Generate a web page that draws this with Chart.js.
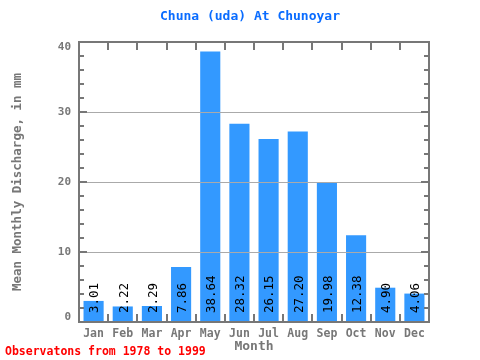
<!DOCTYPE html>
<html>
<head>
<meta charset="UTF-8">
<title>Chuna (uda) At Chunoyar</title>
<style>
  body { margin: 0; background: #fff; }
  #wrap { width: 480px; height: 360px; }
</style>
</head>
<body>
<div id="wrap"><canvas id="chart" width="480" height="360"></canvas></div>
<script src="https://cdn.jsdelivr.net/npm/chart.js@4"></script>
<script>
// data
const months = ['Jan', 'Feb', 'Mar', 'Apr', 'May', 'Jun', 'Jul', 'Aug', 'Sep', 'Oct', 'Nov', 'Dec'];
const discharge = [3.01, 2.22, 2.29, 7.86, 38.64, 28.32, 26.15, 27.20, 19.98, 12.38, 4.90, 4.06];
const valueLabels = ['3.01', '2.22', '2.29', '7.86', '38.64', '28.32', '26.15', '27.20', '19.98', '12.38', '4.90', '4.06'];
const yTicks = [0, 10, 20, 30, 40];

const MONO = '"DejaVu Sans Mono", "Liberation Mono", monospace';
const GREY = '#777777';

// frame, ticks, grid lines, value labels and texts
const decor = {
  id: 'decor',
  afterDatasetsDraw(chart) {
    const c = chart.ctx;
    const a = chart.chartArea;
    const y = chart.scales.y;
    const x = chart.scales.x;
    c.save();

    // grid lines over the bars
    c.strokeStyle = '#aaaaaa';
    c.lineWidth = 1;
    [10, 20, 30].forEach(v => {
      const py = Math.round(y.getPixelForValue(v)) + 0.5;
      c.beginPath(); c.moveTo(a.left, py); c.lineTo(a.right, py); c.stroke();
    });

    // inward ticks
    c.strokeStyle = GREY;
    c.lineWidth = 2;
    for (let v = 2; v < 40; v += 2) {
      const py = Math.round(y.getPixelForValue(v));
      const len = v % 10 === 0 ? 8 : 5;
      c.beginPath(); c.moveTo(a.left, py); c.lineTo(a.left + len, py); c.stroke();
      c.beginPath(); c.moveTo(a.right, py); c.lineTo(a.right - len, py); c.stroke();
    }
    const step = (a.right - a.left) / months.length;
    for (let i = 1; i < months.length; i++) {
      const px = Math.round(a.left + i * step);
      c.beginPath(); c.moveTo(px, a.top); c.lineTo(px, a.top + 8); c.stroke();
      c.beginPath(); c.moveTo(px, a.bottom); c.lineTo(px, a.bottom - 8); c.stroke();
    }

    // frame
    c.strokeRect(a.left, a.top, a.right - a.left, a.bottom - a.top);

    // y tick labels, kept inside the frame height
    c.fillStyle = GREY;
    c.font = 'bold 11px ' + MONO;
    c.textAlign = 'right';
    c.textBaseline = 'middle';
    yTicks.forEach(v => {
      let py = y.getPixelForValue(v);
      py = Math.min(Math.max(py, a.top + 5), a.bottom - 5);
      c.fillText(String(v), a.left - 8, py);
    });

    // value labels, vertical, from the bottom upward
    c.fillStyle = '#000000';
    c.font = '12.5px ' + MONO;
    c.textAlign = 'left';
    c.textBaseline = 'middle';
    discharge.forEach((v, i) => {
      const px = x.getPixelForValue(i) + 1.5;
      c.save();
      c.translate(px, a.bottom - 9);
      c.rotate(-Math.PI / 2);
      c.fillText(valueLabels[i], 0, 0);
      c.restore();
    });

    // title
    c.fillStyle = '#0a6cff';
    c.font = 'bold 13px ' + MONO;
    c.textAlign = 'center';
    c.fillText('Chuna (uda) At Chunoyar', 250, 17);

    // axis titles
    c.fillStyle = GREY;
    c.font = 'bold 13px ' + MONO;
    c.fillText('Month', (a.left + a.right) / 2, 347);
    c.save();
    c.translate(18, (a.top + a.bottom) / 2);
    c.rotate(-Math.PI / 2);
    c.font = 'bold 12.5px ' + MONO;
    c.fillText('Mean Monthly Discharge, in mm', 0, 0);
    c.restore();

    // footer
    c.fillStyle = '#ff0000';
    c.font = 'bold 11.5px ' + MONO;
    c.textAlign = 'left';
    c.fillText('Observatons from 1978 to 1999', 5, 352);

    c.restore();
  }
};

new Chart(document.getElementById('chart'), {
  type: 'bar',
  data: {
    labels: months,
    datasets: [{
      data: discharge,
      backgroundColor: '#3399ff',
      borderWidth: 0,
      categoryPercentage: 1,
      barPercentage: 0.69
    }]
  },
  options: {
    responsive: false,
    animation: false,
    layout: { padding: { left: 0, top: 42, right: 51, bottom: 0 } },
    plugins: { legend: { display: false }, tooltip: { enabled: false } },
    scales: {
      x: {
        grid: { display: false, drawTicks: false },
        border: { display: false },
        ticks: { color: GREY, font: { family: MONO, size: 11.5, weight: 'bold' }, padding: 5, maxRotation: 0 },
        afterFit(s) { s.height = 38; }
      },
      y: {
        min: 0, max: 40,
        grid: { display: false, drawTicks: false },
        border: { display: false },
        // labels are drawn by the plugin so the end ones stay inside the frame
        ticks: { stepSize: 10, display: false },
        afterFit(s) { s.width = 79; }
      }
    }
  },
  plugins: [decor]
});
</script>
</body>
</html>
